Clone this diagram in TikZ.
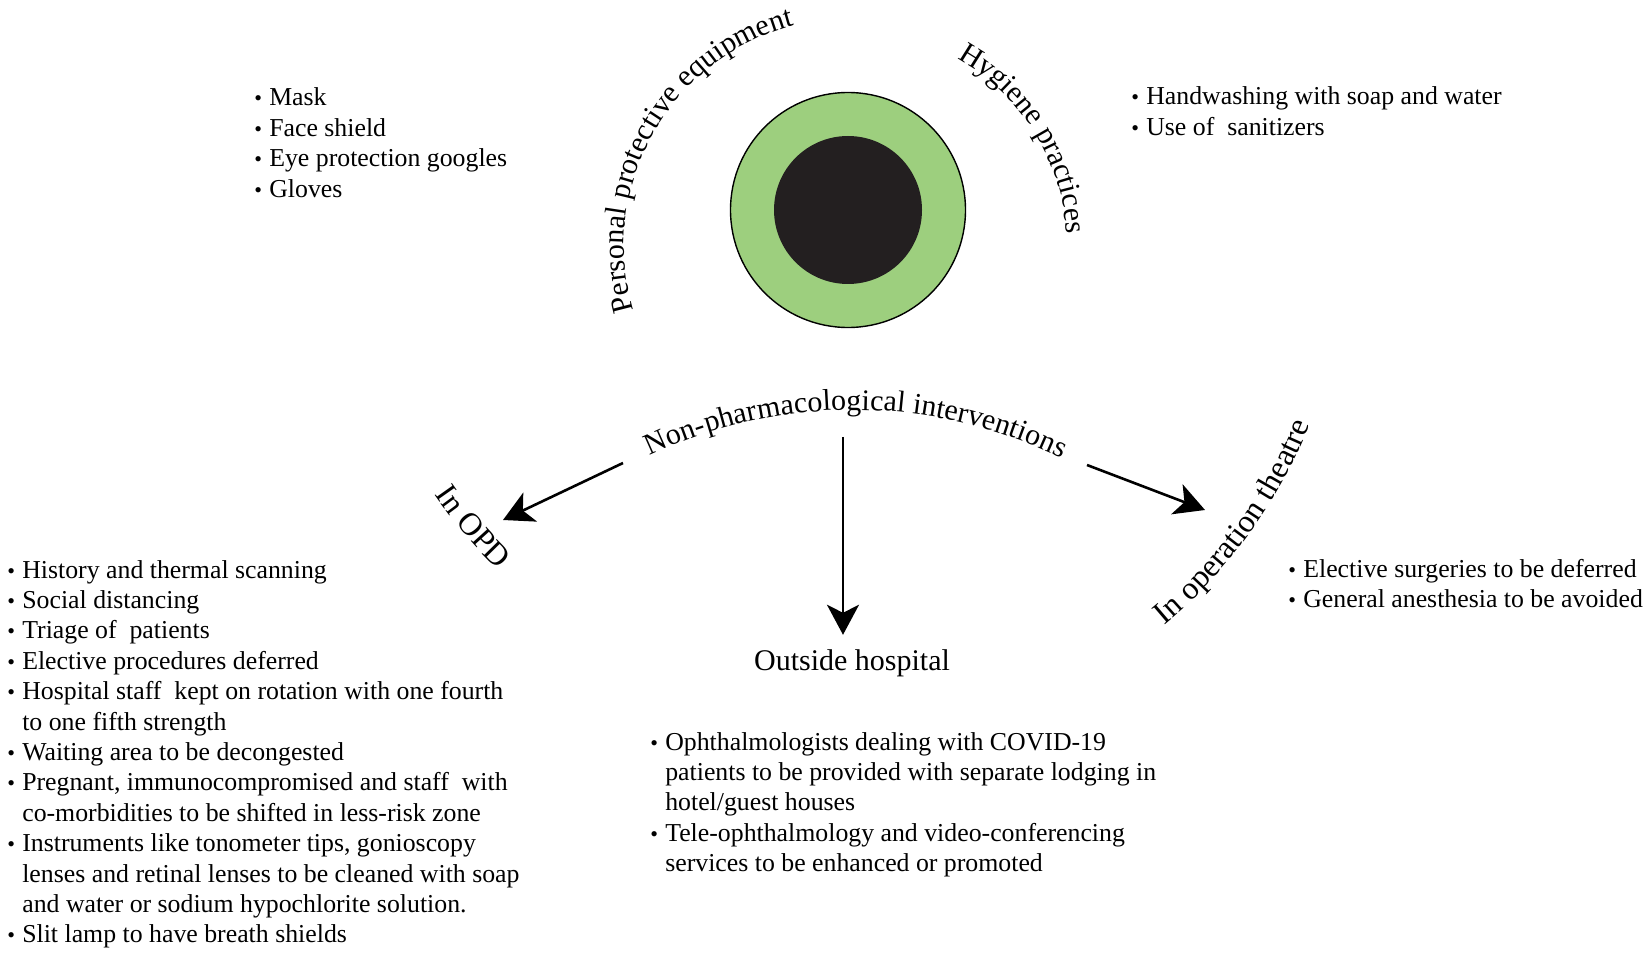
\documentclass[tikz,border=0pt]{standalone}
\usepackage{fontspec}
\setmainfont{Liberation Serif}
\usepackage{tikz}
\usetikzlibrary{arrows.meta,positioning,decorations.text}

\definecolor{ringgreen}{RGB}{157,207,126}
\definecolor{pupil}{RGB}{35,31,32}

\newcommand{\labfont}{\fontsize{15}{18}\selectfont}
\newcommand{\brfont}{\fontsize{16}{19}\selectfont}
\newcommand{\lstfont}{\fontsize{12.9}{15.2}\selectfont}
\newcommand{\bul}{{\fontsize{11}{11}\selectfont\textbullet}}

\begin{document}
\begin{tikzpicture}[
              x=0.5pt, y=0.5pt,
              every node/.style={inner sep=0pt},
              bullist/.style={anchor=base west, font=\lstfont},
              arcline/.style={decorate, decoration={text along path,
                text align=center, text={|\labfont|#1}}},
              brline/.style={decorate, decoration={text along path,
                text align=center, text={|\brfont|#1}}},
              arr/.style={line width=1.3pt,
                -{Stealth[length=15pt, width=16pt, inset=4pt]}}
            ]
            \useasboundingbox (0,0) rectangle (1645,955);

            % Eye in the middle
            \coordinate (eye) at (848,745);
            \draw[fill=ringgreen, line width=0.7pt] (eye) circle[radius=117.5];
            \fill[pupil] (eye) circle[radius=74];

            % Curved headings round the eye
            \coordinate (topc) at (852,709);
            \path[arcline={Personal protective equipment}]
              ([shift={(205.5:228)}]topc) arc[start angle=205.5, end angle=95.5, radius=228];
            \path[arcline={Hygiene practices}]
              ([shift={(67:215)}]topc) arc[start angle=67, end angle=-3, radius=215];

            % Top lists
            \node[bullist] (ppelist) at (254,849) {\begin{tabular}[t]{@{}l@{\hspace{3.6pt}}l@{}}
              \bul & Mask\\
              \bul & Face shield\\
              \bul & Eye protection googles\\
              \bul & Gloves
            \end{tabular}};
            \node[bullist] (hyglist) at (1131,850) {\begin{tabular}[t]{@{}l@{\hspace{3.6pt}}l@{}}
              \bul & Handwashing with soap and water\\
              \bul & Use of\ \ sanitizers
            \end{tabular}};

            % Main heading, on a flat arc
            \coordinate (lowc) at (853,70);
            \path[arcline={Non-pharmacological interventions}]
              ([shift={(121.65:475)}]lowc) arc[start angle=121.65, end angle=57.65, radius=475];

            % Branch headings
            \path[brline={In OPD}]
              ([shift={(208:502)}]eye) arc[start angle=208, end angle=232.4, radius=502];
            \coordinate (otc) at (841,718);
            \path[brline={In operation theatre}]
              ([shift={(-56:505)}]otc) arc[start angle=-56, end angle=-16, radius=505];
            \node[anchor=base, font=\labfont] (out) at (852,285) {Outside hospital};

            % Arrows
            \coordinate (npiL) at (623,492);
            \coordinate (npiC) at (843,518);
            \coordinate (npiR) at (1087,490);
            \coordinate (opdTip) at (503,435);
            \coordinate (otTip) at (1205,445);
            \draw[arr] (npiL) -- (opdTip);
            \draw[arr, shorten >=7pt] (npiC) -- (npiC |- out.north);
            \draw[arr] (npiR) -- (otTip);

            % Branch lists
            \node[bullist] (opdlist) at (7,377) {\begin{tabular}[t]{@{}l@{\hspace{3.6pt}}l@{}}
              \bul & History and thermal scanning\\
              \bul & Social distancing\\
              \bul & Triage of\ \ patients\\
              \bul & Elective procedures deferred\\
              \bul & Hospital staff\ \ kept on rotation with one fourth\\
                   & to one fifth strength\\
              \bul & Waiting area to be decongested\\
              \bul & Pregnant, immunocompromised and staff\ \ with\\
                   & co-morbidities to be shifted in less-risk zone\\
              \bul & Instruments like tonometer tips, gonioscopy\\
                   & lenses and retinal lenses to be cleaned with soap\\
                   & and water or sodium hypochlorite solution.\\
              \bul & Slit lamp to have breath shields
            \end{tabular}};
            \node[bullist] (outlist) at (650,205) {\begin{tabular}[t]{@{}l@{\hspace{3.6pt}}l@{}}
              \bul & Ophthalmologists dealing with COVID-19\\
                   & patients to be provided with separate lodging in\\
                   & hotel/guest houses\\
              \bul & Tele-ophthalmology and video-conferencing\\
                   & services to be enhanced or promoted
            \end{tabular}};
            \node[bullist] (otlist) at (1288,378) {\begin{tabular}[t]{@{}l@{\hspace{3.6pt}}l@{}}
              \bul & Elective surgeries to be deferred\\
              \bul & General anesthesia to be avoided
            \end{tabular}};

            \end{tikzpicture}
\end{document}
